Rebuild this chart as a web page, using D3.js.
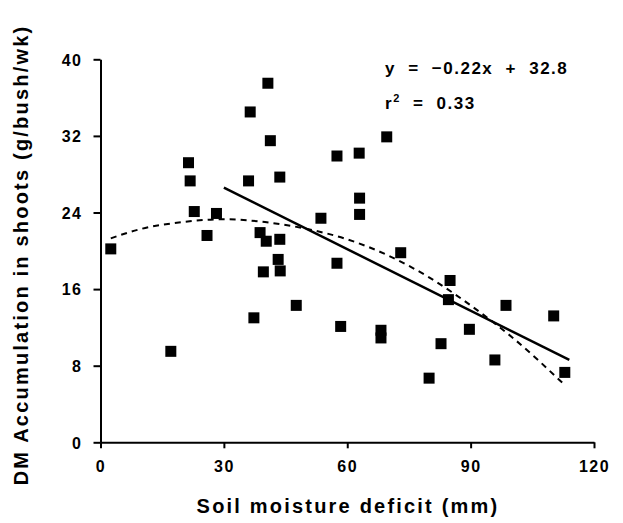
<!DOCTYPE html>
<html><head><meta charset="utf-8">
<script src="https://cdn.jsdelivr.net/npm/d3@7/dist/d3.min.js"></script>
<style>body{margin:0;background:#fff}text{font-family:"Liberation Sans",Arial,sans-serif;fill:#000}</style>
</head><body><svg id="c" width="623" height="523"></svg>
<script>
const xs = [2.5,17.1,21.4,21.8,22.8,25.9,28.2,36.0,36.4,37.3,38.8,39.6,40.3,40.7,41.3,43.6,43.6,43.2,43.7,47.6,53.6,57.5,57.5,58.4,62.9,63.0,63.0,68.2,68.2,69.6,73.0,79.9,82.8,84.6,85.0,89.7,95.9,98.6,110.2,112.9];
const ys = [20.2,9.5,29.2,27.3,24.1,21.6,23.9,27.3,34.5,13.0,21.9,17.8,21.0,37.5,31.5,27.7,21.2,19.1,17.9,14.3,23.4,29.9,18.7,12.1,30.2,25.5,23.8,11.7,10.9,31.9,19.8,6.7,10.3,14.9,16.9,11.8,8.6,14.3,13.2,7.3];
const regX = [30,114];
const regY = [26.6,8.6];
const curveX = [2.5,10,20,30,40,50,60,70,80,90,100,112.6];
const curveY = [21.3,22.3,23.0,23.3,23.0,22.3,21.2,19.5,17.2,14.3,11.0,6.1];
const xTicks = [0,30,60,90,120];
const yTicks = [0,8,16,24,32,40];
const eqText = "y = \u22120.22x + 32.8";
const r2Parts = ["r", "2", " = 0.33"];

const svg = d3.select("#c");
const x = d3.scaleLinear().domain([0,120]).range([100.5,594]);
const y = d3.scaleLinear().domain([0,40]).range([442.3,59.3]);

const xa = svg.append("g").attr("transform","translate(0,442.3)")
  .call(d3.axisBottom(x).tickValues(xTicks).tickSize(6).tickSizeOuter(0).tickPadding(12));
const ya = svg.append("g").attr("transform","translate(100.5,0)")
  .call(d3.axisLeft(y).tickValues(yTicks).tickSize(7).tickSizeOuter(0).tickPadding(11));
[xa,ya].forEach(a=>{
  a.select(".domain").attr("stroke","#000").attr("stroke-width",2);
  a.selectAll(".tick line").attr("stroke","#000").attr("stroke-width",2);
  a.selectAll(".tick text").attr("font-family",null).style("font-size","16px").style("font-weight","bold").style("letter-spacing","1.5px").attr("fill","#000");
});
ya.selectAll(".tick text").attr("dy","0.36em");

// dashed curve
const curvePts = curveX.map((v,i)=>[v,curveY[i]]);
svg.append("path").attr("d", d3.line().x(d=>x(d[0])).y(d=>y(d[1])).curve(d3.curveMonotoneX)(curvePts))
  .attr("fill","none").attr("stroke","#000").attr("stroke-width",2).attr("stroke-dasharray","6,5");

// regression line
svg.append("path").attr("d", d3.line().x(d=>x(d[0])).y(d=>y(d[1]))(regX.map((v,i)=>[v,regY[i]])))
  .attr("fill","none").attr("stroke","#000").attr("stroke-width",2.5);

// points
const s = 11;
svg.append("g").selectAll("rect").data(xs.map((v,i)=>[v,ys[i]])).join("rect")
  .attr("x",d=>x(d[0])-s/2).attr("y",d=>y(d[1])-s/2).attr("width",s).attr("height",s)
  .attr("fill","#000");

svg.append("text").attr("x",385).attr("y",74).style("font-size","17px").style("font-weight","bold")
  .style("letter-spacing","1.5px").style("word-spacing","6px").text(eqText);
const r2 = svg.append("text").attr("x",385).attr("y",109).style("font-size","17px").style("font-weight","bold")
  .style("letter-spacing","1.5px").style("word-spacing","6px").attr("xml:space","preserve");
r2.append("tspan").text(r2Parts[0]);
r2.append("tspan").attr("dy",-7).style("font-size","11px").text(r2Parts[1]);
r2.append("tspan").attr("dy",7).text(r2Parts[2]);

svg.append("text").attr("x",348).attr("y",513).attr("text-anchor","middle")
  .style("font-size","20px").style("font-weight","bold").style("letter-spacing","2.2px").text("Soil moisture deficit (mm)");
svg.append("text").attr("transform","translate(28,255) rotate(-90)").attr("text-anchor","middle")
  .style("font-size","20px").style("font-weight","bold").style("letter-spacing","2.2px").text("DM Accumulation in shoots (g/bush/wk)");
</script></body></html>
